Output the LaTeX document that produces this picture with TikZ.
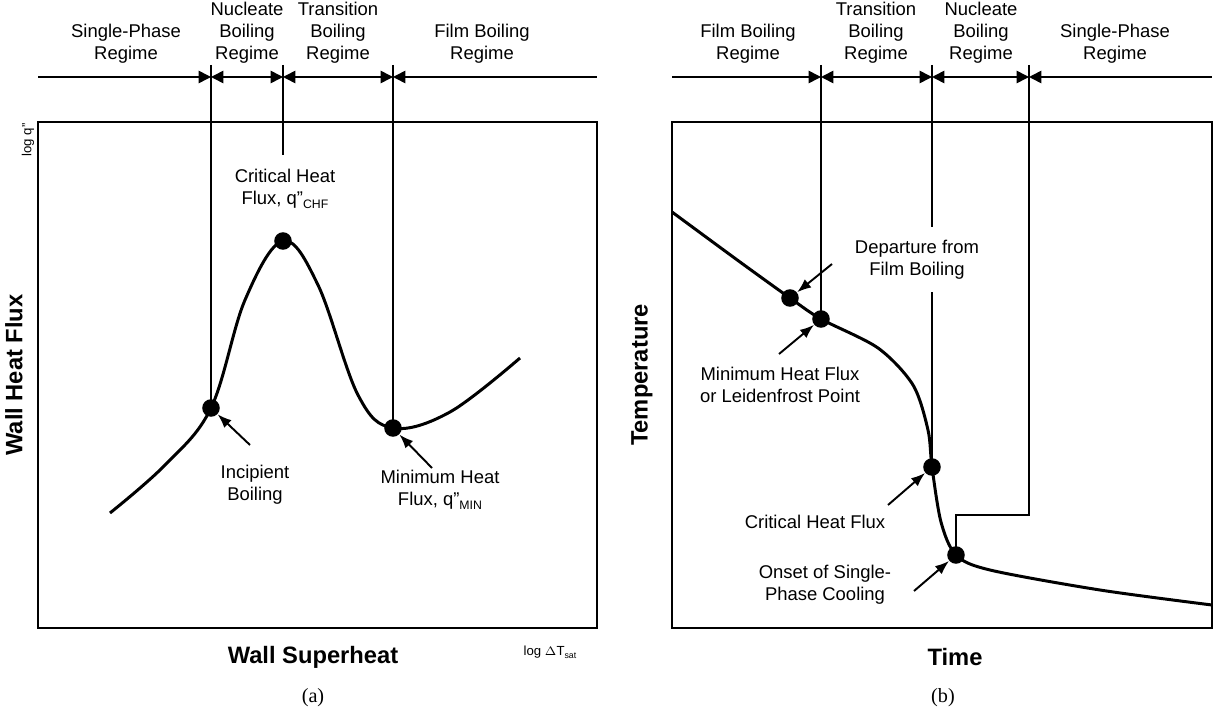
\documentclass[tikz,border=0pt]{standalone}
\usepackage{fontspec}
\setmainfont{Liberation Sans}
\newfontfamily\capfont{Liberation Serif}
\usetikzlibrary{arrows.meta}

\begin{document}
\begin{tikzpicture}[x=0.02cm, y=-0.02cm,
	panel/.style={line width=1.5pt},
	divider/.style={line width=0.9pt},
	regime/.style={line width=0.9pt},
	curve/.style={line width=1.7pt, line join=round},
	dot/.style={circle, fill, inner sep=0pt, minimum size=10pt},
	label text/.style={align=center, font=\fontsize{10.5}{12.5}\selectfont},
	axis text/.style={font=\fontsize{13.5}{15}\selectfont\bfseries},
	log text/.style={font=\fontsize{7.5}{8}\selectfont},
	pointer/.style={line width=1.1pt, -{Latex[length=8pt,width=6pt]}},
	regime tip/.style={{Triangle[length=7pt,width=7pt]}-{Triangle[length=7pt,width=7pt]}}]
	
	\useasboundingbox (0,0) rectangle (1214,713);
	
	% (a) boiling curve
	\draw[panel] (38,122) rectangle (597,628);
	\node[label text] (aSP) at (126,44) {Single-Phase\\Regime};
	\node[label text] (aNB) at (247,33) {Nucleate\\Boiling\\Regime};
	\node[label text] (aTB) at (338,33) {Transition\\Boiling\\Regime};
	\node[label text] (aFB) at (482,44) {Film Boiling\\Regime};
	\coordinate (aL) at (38,77);
	\coordinate (aR) at (597,77);
	\coordinate (aD1) at (211,77);
	\coordinate (aD2) at (283,77);
	\coordinate (aD3) at (393,77);
	\draw[regime, -{Triangle[length=7pt,width=7pt]}] (aL) -- (aD1);
	\draw[regime, regime tip] (aD1) -- (aD2);
	\draw[regime, regime tip] (aD2) -- (aD3);
	\draw[regime, {Triangle[length=7pt,width=7pt]}-] (aD3) -- (aR);
	
	\node[dot] (IB) at (211,408) {};
	\node[dot] (CHF) at (283,241) {};
	\node[dot] (MHF) at (393,428) {};
	\draw[divider] (211,65) -- (IB.center);
	\draw[divider] (283,65) -- (283,155);
	\draw[divider] (393,65) -- (MHF.center);
	\draw[curve] plot[smooth, tension=0.6] coordinates {(110,513) (165,465) (211,408) (245,300) (283,241) (318,285) (358,395) (393,428) (450,412) (520,358)};
	
	\node[label text] (CHFtext) at (285,189) {Critical Heat\\Flux, q''\raisebox{-0.4ex}{\scriptsize CHF}};
	\node[label text] (IBtext) at (255,485) {Incipient\\Boiling};
	\node[label text] (MHFtext) at (440,490) {Minimum Heat\\Flux, q''\raisebox{-0.4ex}{\scriptsize MIN}};
	\draw[pointer] (250,445) -- (IB);
	\draw[pointer] (432,468) -- (MHF);
	
	\node[log text, rotate=90] (logq) at (28,140) {log q''};
	\node[log text] (logT) at (550,652) {log $\Delta$T\raisebox{-0.4ex}{\tiny sat}};
	\node[axis text, rotate=90] (aY) at (14,375) {Wall Heat Flux};
	\node[axis text] (aX) at (313,657) {Wall Superheat};
	\node[font=\capfont\fontsize{11.5}{12}\selectfont] (capA) at (313,698) {(a)};
	
	% (b) quench curve
	\draw[panel] (672,122) rectangle (1212,628);
	\node[label text] (bFB) at (748,44) {Film Boiling\\Regime};
	\node[label text] (bTB) at (876,33) {Transition\\Boiling\\Regime};
	\node[label text] (bNB) at (981,33) {Nucleate\\Boiling\\Regime};
	\node[label text] (bSP) at (1115,44) {Single-Phase\\Regime};
	\coordinate (bL) at (672,77);
	\coordinate (bR) at (1212,77);
	\coordinate (bD1) at (821,77);
	\coordinate (bD2) at (932,77);
	\coordinate (bD3) at (1029,77);
	\draw[regime, -{Triangle[length=7pt,width=7pt]}] (bL) -- (bD1);
	\draw[regime, regime tip] (bD1) -- (bD2);
	\draw[regime, regime tip] (bD2) -- (bD3);
	\draw[regime, {Triangle[length=7pt,width=7pt]}-] (bD3) -- (bR);
	
	\node[dot] (DFB) at (790,298) {};
	\node[dot] (LFP) at (821,319) {};
	\node[dot] (bCHF) at (932,467) {};
	\node[dot] (OSP) at (956,555) {};
	\draw[divider] (821,65) -- (LFP.center);
	\draw[divider] (932,65) -- (932,227);
	\draw[divider] (932,292) -- (bCHF.center);
	\draw[divider] (1029,65) -- (1029,515) -- (956,515) -- (OSP.center);
	\draw[curve] plot[smooth, tension=0.5] coordinates {(672,212) (740,262) (790,298) (821,319) (878,348) (913,385) (928,430) (932,467) (941,522) (956,555) (990,570) (1100,590) (1212,605)};
	
	\node[label text] (DFBtext) at (917,260) {Departure from\\Film Boiling};
	\node[label text] (LFPtext) at (780,385) {Minimum Heat Flux\\or Leidenfrost Point};
	\node[label text] (bCHFtext) at (815,522) {Critical Heat Flux};
	\node[label text] (OSPtext) at (825,585) {Onset of Single-\\Phase Cooling};
	\draw[pointer] (832,264) -- (DFB);
	\draw[pointer] (779,354) -- (LFP);
	\draw[pointer] (888,505) -- (bCHF);
	\draw[pointer] (914,591) -- (OSP);
	
	\node[axis text, rotate=90] (bY) at (642,375) {Temperature};
	\node[axis text] (bX) at (955,657) {Time};
	\node[font=\capfont\fontsize{11.5}{12}\selectfont] (capB) at (943,698) {(b)};
\end{tikzpicture}
\end{document}
